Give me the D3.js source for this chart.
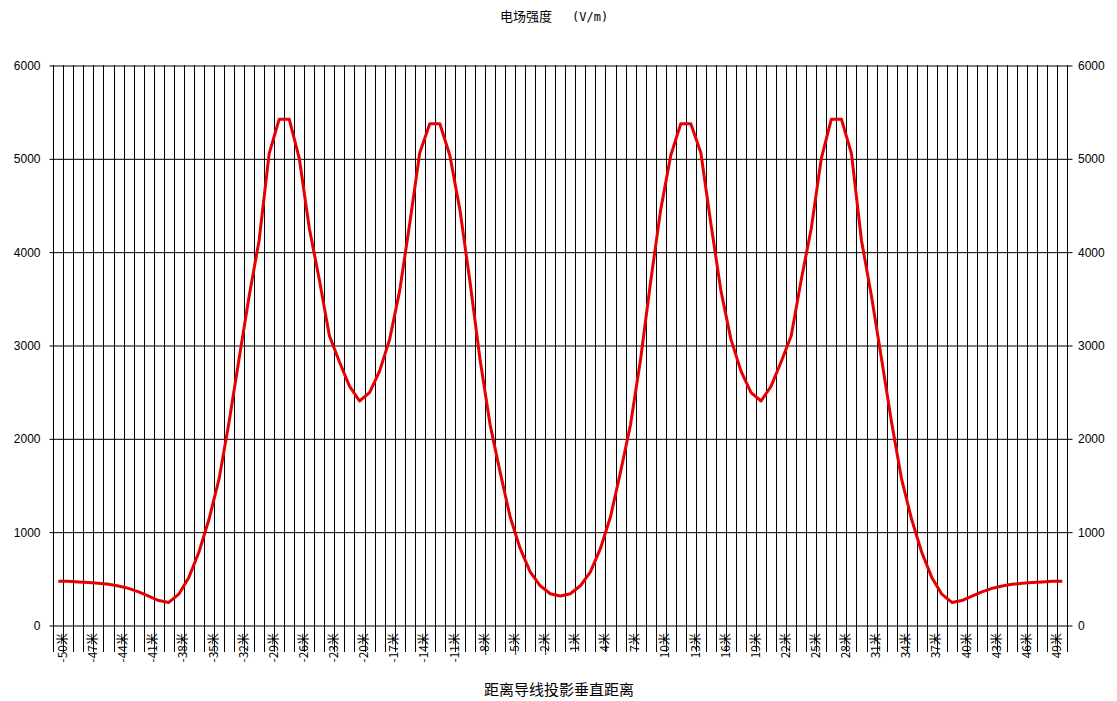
<!doctype html>
<html>
  <head>
    <meta charset="utf-8">
    <script src="https://cdnjs.cloudflare.com/ajax/libs/d3/7.8.5/d3.min.js"></script>
    <style>
      body { margin: 0; background: #fff; }
    </style>
  </head>
  <body>
    <svg width="1117" height="701"></svg>
    <script>
        // distance from the projection of the conductor (m)
        var distances = [-50,-49,-48,-47,-46,-45,-44,-43,-42,-41,-40,-39,-38,-37,-36,-35,-34,-33,-32,-31,
                         -30,-29,-28,-27,-26,-25,-24,-23,-22,-21,-20,-19,-18,-17,-16,-15,-14,-13,-12,-11,
                         -10,-9,-8,-7,-6,-5,-4,-3,-2,-1,0,1,2,3,4,5,6,7,8,9,
                         10,11,12,13,14,15,16,17,18,19,20,21,22,23,24,25,26,27,28,29,
                         30,31,32,33,34,35,36,37,38,39,40,41,42,43,44,45,46,47,48,49,50];

        // field strength (V/m)
        var fieldValues = [470,468,462,455,447,436,418,392,355,310,262,242,330,510,780,1130,1560,2170,2850,3520,
                           4120,5050,5420,5420,5000,4250,3700,3100,2820,2560,2400,2490,2720,3060,3580,4300,5060,5370,5370,5030,
                           4450,3680,2850,2150,1640,1160,820,570,420,335,310,335,420,570,820,1160,1640,2150,2850,3680,
                           4450,5030,5370,5370,5060,4300,3580,3060,2720,2490,2400,2560,2820,3100,3700,4250,5000,5420,5420,5050,
                           4120,3520,2850,2170,1560,1130,780,510,330,242,262,310,355,392,418,436,447,455,462,468,470];

        var labelDistances = [-50,-47,-44,-41,-38,-35,-32,-29,-26,-23,-20,-17,-14,-11,-8,-5,-2,
                              1,4,7,10,13,16,19,22,25,28,31,34,37,40,43,46,49];
        var yTicks = [0,1000,2000,3000,4000,5000,6000];

        var titleName = "电场强度";
        var titleUnit = "(V/m)";
        var xTitle = "距离导线投影垂直距离";

        var svg = d3.select("svg");

        var x = d3.scaleBand()
            .domain(distances)
            .range([53.3, 1067.3])
            .padding(0);
        var bw = x.bandwidth();

        var y = d3.scaleLinear()
            .domain([0, 6000])
            .range([625, 65]);

        // vertical grid lines on the band edges
        var edges = distances.map(d => x(d)).concat([x(distances[distances.length - 1]) + bw]);
        svg.append("g")
            .selectAll("line")
            .data(edges)
            .enter()
            .append("line")
                .attr("x1", d => Math.round(d) + 0.5)
                .attr("x2", d => Math.round(d) + 0.5)
                .attr("y1", y(6000))
                .attr("y2", 652)
                .attr("stroke", "#000")
                .attr("stroke-width", 1);

        // horizontal grid lines + left labels
        var left = svg.append("g")
            .attr("transform", "translate(49.5,0.5)")
            .call(d3.axisLeft(y).tickValues(yTicks).tickSize(-1023).tickPadding(9).tickFormat(d3.format("d")));
        left.select(".domain").remove();
        left.selectAll(".tick line").attr("stroke", "#000");
        left.selectAll("text")
            .style("font-family", "'Liberation Sans', Arial, sans-serif")
            .style("font-size", "12px")
            .attr("fill", "#000");

        var right = svg.append("g")
            .attr("transform", "translate(1072,0.5)")
            .call(d3.axisRight(y).tickValues(yTicks).tickSize(0).tickPadding(6).tickFormat(d3.format("d")));
        right.select(".domain").remove();
        right.selectAll("text")
            .style("font-family", "'Liberation Sans', Arial, sans-serif")
            .style("font-size", "12px")
            .attr("fill", "#000");

        // rotated category labels
        var bottom = svg.append("g")
            .attr("transform", "translate(0,625)")
            .call(d3.axisBottom(x).tickValues(labelDistances).tickSize(0).tickFormat(d => d + "米"));
        bottom.select(".domain").remove();
        bottom.selectAll("text")
            .attr("transform", "rotate(-90)")
            .attr("x", -8)
            .attr("y", 4.5)
            .attr("dy", "0.35em")
            .style("text-anchor", "end")
            .style("font-family", "'Noto Sans CJK SC', sans-serif")
            .style("font-size", "12px")
            .attr("fill", "#000");

        // field strength curve
        var line = d3.line()
            .x((d, i) => x(distances[i]) + bw / 2)
            .y(d => y(d));

        svg.append("path")
            .datum(fieldValues)
            .attr("d", line)
            .attr("fill", "none")
            .attr("stroke", "#e60000")
            .attr("stroke-width", 3)
            .attr("stroke-linejoin", "round");

        var title = svg.append("text")
            .attr("x", 500)
            .attr("y", 21)
            .style("font-family", "'Noto Sans CJK SC', sans-serif")
            .style("font-size", "13px");
        title.append("tspan").text(titleName);
        title.append("tspan")
            .attr("dx", 20)
            .style("font-family", "'DejaVu Sans Mono', monospace")
            .style("font-size", "12px")
            .text(titleUnit);

        svg.append("text")
            .attr("x", 559)
            .attr("y", 695)
            .attr("text-anchor", "middle")
            .style("font-family", "'Noto Sans CJK SC', sans-serif")
            .style("font-size", "15px")
            .text(xTitle);
    </script>
  </body>
</html>
